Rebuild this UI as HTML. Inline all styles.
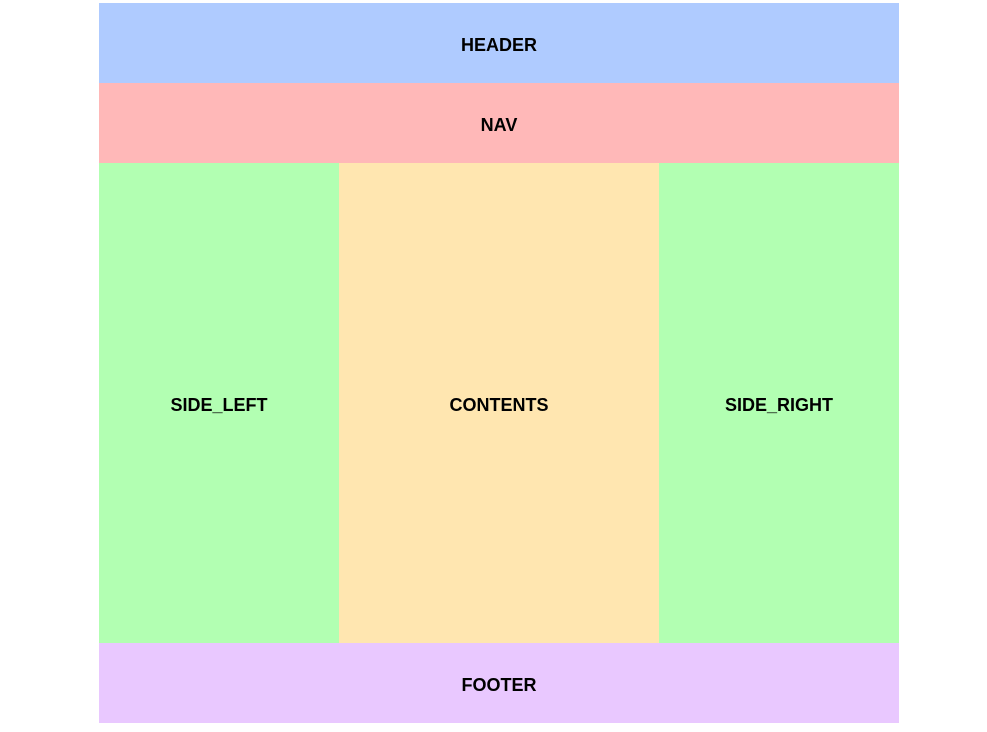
<!DOCTYPE html>
<html><head><meta charset="utf-8"><style>
html,body{margin:0;padding:0;background:#fff;width:987px;height:732px;overflow:hidden}
.b{position:absolute;box-sizing:border-box;padding-top:4px;display:flex;align-items:center;justify-content:center;font-family:"Liberation Sans","DejaVu Sans",sans-serif;font-weight:bold;font-size:18px;color:#000}
</style></head><body>
<div class="b" style="left:99px;top:3px;width:800px;height:80px;background:#afcbff">HEADER</div>
<div class="b" style="left:99px;top:83px;width:800px;height:80px;background:#ffb8b8">NAV</div>
<div class="b" style="left:99px;top:163px;width:240px;height:480px;background:#b2ffb2">SIDE_LEFT</div>
<div class="b" style="left:339px;top:163px;width:320px;height:480px;background:#ffe6b0">CONTENTS</div>
<div class="b" style="left:659px;top:163px;width:240px;height:480px;background:#b2ffb2">SIDE_RIGHT</div>
<div class="b" style="left:99px;top:643px;width:800px;height:80px;background:#e9c8ff">FOOTER</div>
</body></html>
